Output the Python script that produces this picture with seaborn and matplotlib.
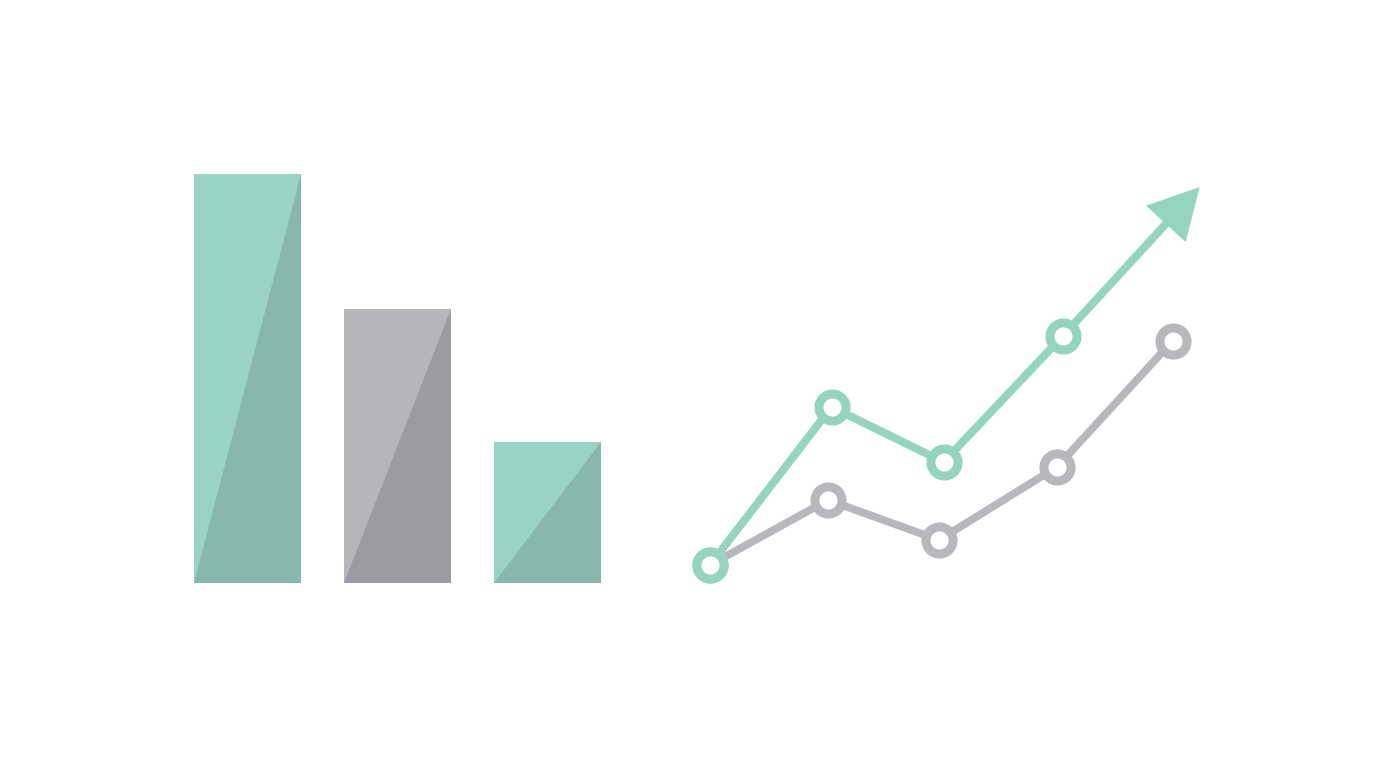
import matplotlib
matplotlib.use("Agg")
import matplotlib.pyplot as plt
import seaborn as sns
import pandas as pd
from matplotlib.patches import Polygon

sns.set_theme(style="white")

# ---- data ----
bar_categories = ["A", "B", "C"]
bar_values = [10.0, 6.7, 3.45]
bar_colors = ["#9AD3C4", "#B4B6BA", "#9AD3C4"]
bar_shade_colors = ["#88B8AC", "#9A9CA1", "#88B8AC"]

teal_x = [0.0, 1.03, 1.98, 2.99]
teal_y = [0.0, 15.8, 10.3, 22.9]
arrow_tip = (4.15, 37.8)

gray_x = [0.0, 1.0, 1.94, 2.94, 3.92]
gray_y = [0.0, 6.5, 2.5, 9.8, 22.4]

TEAL = "#95D4C1"
GRAY = "#B7B8BC"

W, H = 1376, 768
fig = plt.figure(figsize=(W / 100, H / 100), dpi=100)
fig.patch.set_facecolor("white")

# ---- left: bar chart ----
ax1 = fig.add_axes([172.5 / W, (H - 583) / H, 450 / W, 409 / H])
df_bars = pd.DataFrame({"cat": bar_categories, "val": bar_values})
sns.barplot(data=df_bars, x="cat", y="val", hue="cat", palette=bar_colors,
            width=107 / 150, legend=False, ax=ax1, saturation=1, linewidth=0)
ax1.set_xlim(-0.5, 2.5)
ax1.set_ylim(0, 10.0)
for patch, shade in zip(ax1.patches, bar_shade_colors):
    x0, y0 = patch.get_x(), patch.get_y()
    w, h = patch.get_width(), patch.get_height()
    tri = Polygon([(x0 + w, y0 + h), (x0 + w, y0), (x0, y0)], closed=True,
                  facecolor=shade, edgecolor="none", zorder=patch.get_zorder() + 0.1)
    ax1.add_patch(tri)
ax1.axis("off")

# ---- right: line chart ----
ax2 = fig.add_axes([680 / W, (H - 600) / H, 540 / W, 430 / H])
ax2.set_xlim(-30 / 118, 510 / 118)
ax2.set_ylim(-3.5, 39.5)

df_gray = pd.DataFrame({"x": gray_x, "y": gray_y})
df_teal = pd.DataFrame({"x": teal_x, "y": teal_y})

marker_kw = dict(marker="o", markersize=19.5, markeredgewidth=6.5,
                 markerfacecolor="white")
sns.lineplot(data=df_gray, x="x", y="y", color=GRAY, linewidth=5.6, ax=ax2,
             markeredgecolor=GRAY, zorder=2, sort=False, **marker_kw)

# arrow segment from last teal point to arrow tip
ann = ax2.annotate("", xy=arrow_tip, xytext=(teal_x[-1], teal_y[-1]),
                   arrowprops=dict(arrowstyle="-|>,head_length=27,head_width=14.5",
                                   mutation_scale=1, color=TEAL, linewidth=5.8,
                                   joinstyle="miter", capstyle="butt",
                                   shrinkA=0, shrinkB=0),
                   zorder=3)
sns.lineplot(data=df_teal, x="x", y="y", color=TEAL, linewidth=5.8, ax=ax2,
             markeredgecolor=TEAL, zorder=4, sort=False, **marker_kw)
ax2.axis("off")

fig.savefig("out.png", dpi=100, facecolor="white")
